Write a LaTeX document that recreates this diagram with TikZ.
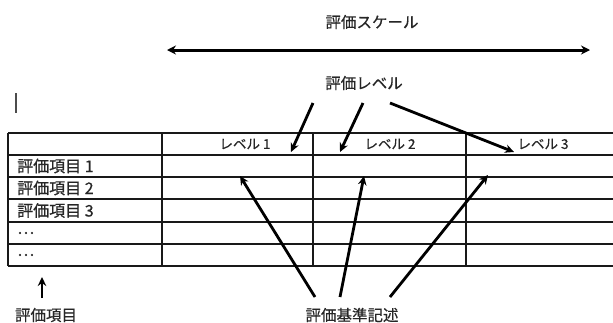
\documentclass[tikz,border=0pt]{standalone}
\usepackage{fontspec}
\newfontfamily\jp[FakeBold=0.6]{Noto Sans CJK JP}
\usetikzlibrary{arrows.meta}
\begin{document}
\begin{tikzpicture}[x=1pt,y=-1pt,
  lbl/.style={font=\jp\fontsize{15.5}{15.5}\selectfont, inner sep=0pt, text=black!85},
  cell/.style={font=\jp\fontsize{16}{16}\selectfont, inner sep=0pt, anchor=west, text=black!85},
  head/.style={font=\jp\fontsize{13.5}{13.5}\selectfont, inner sep=0pt, text=black!85},
  gridline/.style={line width=1.1pt, black!90},
  arr/.style={line width=2.8pt, -{Stealth[length=9pt,width=8.5pt]}},
  darr/.style={line width=3pt, {Stealth[length=9pt,width=9pt]}-{Stealth[length=9pt,width=9pt]}},
]
\useasboundingbox (0,0) rectangle (613,322);
% top labels
\node[lbl] (scale) at (372,22) {評価スケール};
\coordinate (sl) at (167,50);
\coordinate (sr) at (590,50);
\draw[darr] (sl) -- (sr);
\node[lbl] (level) at (364,83) {評価レベル};
% cursor mark
\coordinate (c1) at (16,93);
\coordinate (c2) at (16,113);
\draw[line width=1.2pt, black!70] (c1) -- (c2);
% table
\foreach \y in {133,155,177,199,222,244,266}
  \draw[gridline] (8,\y) -- (613,\y);
\foreach \x in {8,162,313,466}
  \draw[gridline] (\x,133) -- (\x,266);
% headers
\node[head] (lv1) at (245,144) {レベル 1};
\node[head] (lv2) at (390,144) {レベル 2};
\node[head] (lv3) at (543,144) {レベル 3};
% row labels
\node[cell] (r1) at (17,166) {評価項目 1};
\node[cell] (r2) at (17,188) {評価項目 2};
\node[cell] (r3) at (17,210.5) {評価項目 3};
\node[cell] (r4) at (17,233) {…};
\node[cell] (r5) at (17,255) {…};
% level arrows
\coordinate (la1) at (313,103);
\coordinate (la2) at (363,103);
\coordinate (la3) at (390,103);
\coordinate (lt1) at (291,152);
\coordinate (lt2) at (340,152);
\coordinate (lt3) at (514,152);
\draw[arr] (la1) -- (lt1);
\draw[arr] (la2) -- (lt2);
\draw[arr] (la3) -- (lt3);
% bottom labels
\node[lbl] (items) at (46,315) {評価項目};
\coordinate (ib) at (42,298);
\coordinate (it) at (42,277);
\draw[arr] (ib) -- (it);
\node[lbl] (crit) at (352,315) {評価基準記述};
\coordinate (cb1) at (315,297);
\coordinate (cb2) at (340,297);
\coordinate (cb3) at (390,297);
\coordinate (ct1) at (240,176);
\coordinate (ct2) at (364,176);
\coordinate (ct3) at (488,175);
\draw[arr] (cb1) -- (ct1);
\draw[arr] (cb2) -- (ct2);
\draw[arr] (cb3) -- (ct3);
\end{tikzpicture}
\end{document}
